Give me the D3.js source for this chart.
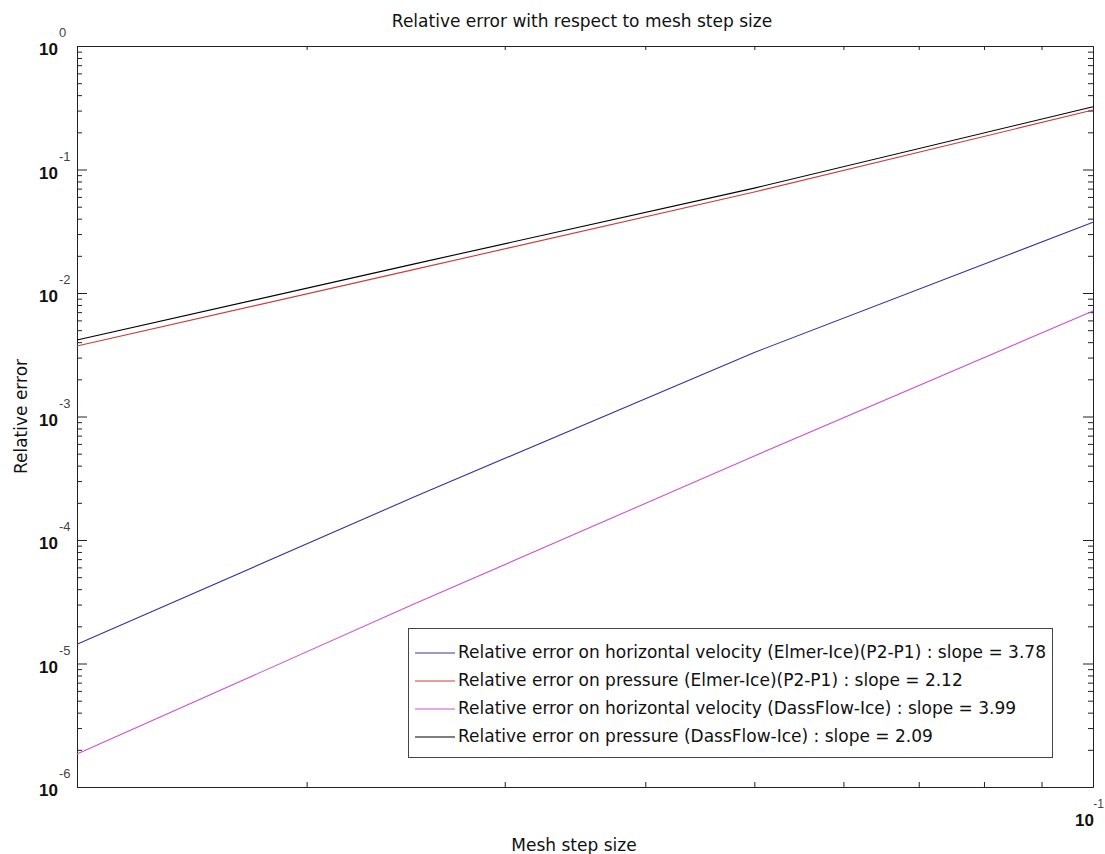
<!DOCTYPE html>
<html>
<head>
<meta charset="utf-8">
<script src="https://cdn.jsdelivr.net/npm/d3@7"></script>
<style>
  html, body { margin: 0; padding: 0; background: #fff; }
  svg { display: block; }
</style>
</head>
<body>
<svg id="chart" width="1105" height="854"></svg>
<script>
// ---- data ----
const meshSteps = [0.0125, 0.025, 0.05, 0.1];
const velElmer = [1.43e-5, 2.26e-4, 3.3e-3, 0.0374];
const presElmer = [3.72e-3, 0.0156, 0.0657, 0.303];
const velDass = [1.85e-6, 3.07e-5, 4.79e-4, 7.15e-3];
const presDass = [4.16e-3, 0.0173, 0.0707, 0.3225];
const seriesNames = [
  "Relative error on horizontal velocity (Elmer-Ice)(P2-P1) : slope = 3.78",
  "Relative error on pressure (Elmer-Ice)(P2-P1) : slope = 2.12",
  "Relative error on horizontal velocity (DassFlow-Ice) : slope = 3.99",
  "Relative error on pressure (DassFlow-Ice) : slope = 2.09"
];
const seriesColors = ["#34349c", "#cc3c3c", "#cc55cc", "#000000"];
const yExponents = [0, -1, -2, -3, -4, -5, -6];
const xExponents = [-1];
const titleText = "Relative error with respect to mesh step size";
const xLabel = "Mesh step size";
const yLabel = "Relative error";

(function () {
// ---- layout ----
const pL = 77, pR = 1093, pT = 46, pB = 787;
const svg = d3.select("#chart");
const x = d3.scaleLog().domain([0.0125, 0.1]).range([pL, pR]);
const y = d3.scaleLog().domain([1e-6, 1]).range([pB, pT]);
const FONT = "DejaVu Sans, sans-serif";
const TFONT = "Liberation Sans, Arial, sans-serif";

// minor ticks
const yMajor = yExponents.map(e => Math.pow(10, e));
const yMinor = [];
yExponents.forEach(e => { if (e < 0) for (let k = 2; k <= 9; k++) yMinor.push(k * Math.pow(10, e)); });
const xMinor = [];
for (let k = 2; k <= 9; k++) xMinor.push(k * 0.01);

function styleAxis(g) {
  g.select(".domain").attr("stroke", "#222").attr("stroke-width", 1);
  g.selectAll(".tick line").attr("stroke", "#222").attr("stroke-width", 1);
  g.selectAll(".tick text").remove();
}

// left
svg.append("g").attr("transform", `translate(${pL},0)`)
  .call(d3.axisLeft(y).tickValues(yMajor).tickSize(-10).tickSizeOuter(0)).call(styleAxis);
svg.append("g").attr("transform", `translate(${pL},0)`)
  .call(d3.axisLeft(y).tickValues(yMinor).tickSize(-5).tickSizeOuter(0)).call(styleAxis);
// right
svg.append("g").attr("transform", `translate(${pR},0)`)
  .call(d3.axisRight(y).tickValues(yMajor).tickSize(-10).tickSizeOuter(0)).call(styleAxis);
svg.append("g").attr("transform", `translate(${pR},0)`)
  .call(d3.axisRight(y).tickValues(yMinor).tickSize(-5).tickSizeOuter(0)).call(styleAxis);
// bottom
svg.append("g").attr("transform", `translate(0,${pB})`)
  .call(d3.axisBottom(x).tickValues(xMinor).tickSize(-5).tickSizeOuter(0)).call(styleAxis);
// top
svg.append("g").attr("transform", `translate(0,${pT})`)
  .call(d3.axisTop(x).tickValues(xMinor).tickSize(-4).tickSizeOuter(0)).call(styleAxis);

// y tick labels
yExponents.forEach(e => {
  const ty = y(Math.pow(10, e));
  svg.append("text").attr("x", 58).attr("y", ty + 9)
    .attr("text-anchor", "end").attr("font-family", TFONT)
    .attr("font-weight", "bold").attr("font-size", 17).attr("fill", "#111").text("10");
  svg.append("text").attr("x", 59).attr("y", ty - 9)
    .attr("font-family", TFONT)
    .attr("font-size", 13).attr("fill", "#444").text(String(e));
});
// x tick label
xExponents.forEach(e => {
  const tx = x(Math.pow(10, e));
  svg.append("text").attr("x", tx + 1).attr("y", pB + 39)
    .attr("text-anchor", "end").attr("font-family", TFONT)
    .attr("font-weight", "bold").attr("font-size", 17).attr("fill", "#111").text("10");
  svg.append("text").attr("x", 1104).attr("y", pB + 21)
    .attr("text-anchor", "end")
    .attr("font-family", TFONT)
    .attr("font-size", 12).attr("fill", "#444").text(String(e));
});

// series
const allSeries = [velElmer, presElmer, velDass, presDass];
const line = d3.line().x(d => x(d[0])).y(d => y(d[1]));
allSeries.forEach((vals, i) => {
  svg.append("path").datum(meshSteps.map((m, j) => [m, vals[j]]))
    .attr("d", line).attr("fill", "none")
    .attr("stroke", seriesColors[i]).attr("stroke-width", 1.1);
});

// title & labels
svg.append("text").attr("x", 582).attr("y", 27).attr("text-anchor", "middle")
  .attr("font-family", FONT).attr("font-size", 17).attr("fill", "#111").text(titleText);
svg.append("text").attr("x", 574).attr("y", 851).attr("text-anchor", "middle")
  .attr("font-family", FONT).attr("font-size", 17).attr("fill", "#111").text(xLabel);
svg.append("text").attr("transform", `translate(27,${(pT + pB) / 2}) rotate(-90)`)
  .attr("text-anchor", "middle")
  .attr("font-family", FONT).attr("font-size", 17).attr("fill", "#111").text(yLabel);

// legend
const lg = svg.append("g");
lg.append("rect").attr("x", 408.5).attr("y", 628.5).attr("width", 644).attr("height", 129)
  .attr("fill", "#fff").attr("stroke", "#444").attr("stroke-width", 1);
seriesNames.forEach((name, i) => {
  const ly = 653 + i * 28;
  lg.append("line").attr("x1", 415).attr("x2", 455).attr("y1", ly).attr("y2", ly)
    .attr("stroke", seriesColors[i]).attr("stroke-width", 1.1);
  lg.append("text").attr("x", 458).attr("y", ly + 5)
    .attr("font-family", FONT).attr("font-size", 17).attr("fill", "#111").text(name);
});
})();
</script>
</body>
</html>
